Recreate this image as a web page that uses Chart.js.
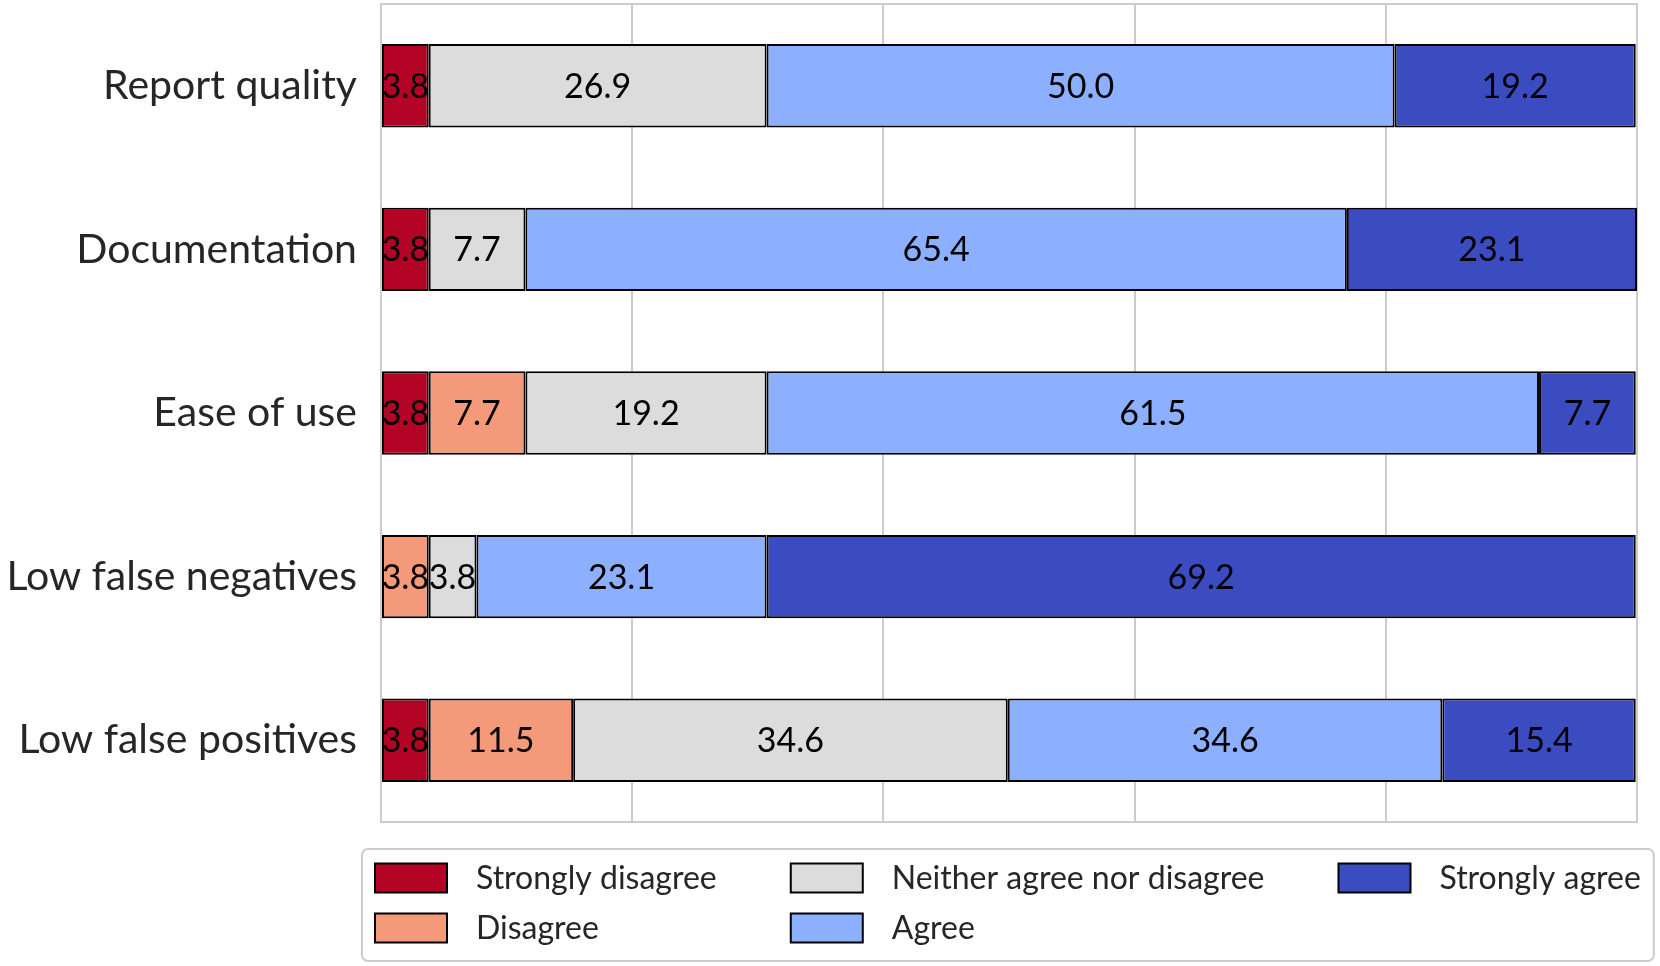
<!DOCTYPE html>
<html>
<head>
<meta charset="utf-8">
<title>Survey responses</title>
<script src="https://cdn.jsdelivr.net/npm/chart.js@4.4.1/dist/chart.umd.min.js"></script>
<style>
  html, body { margin: 0; padding: 0; background: #fff; }
  #wrap { width: 1660px; height: 966px; }
</style>
</head>
<body>
<div id="wrap"><canvas id="chart"></canvas></div>
<script>
// --- Data ---
const categories = ['Report quality', 'Documentation', 'Ease of use', 'Low false negatives', 'Low false positives'];
const responseLabels = ['Strongly disagree', 'Disagree', 'Neither agree nor disagree', 'Agree', 'Strongly agree'];
const responseColors = ['#b40426', '#f49a7b', '#dddcdc', '#8db0fe', '#3b4cc0'];

const stronglyDisagree = [3.8, 3.8, 3.8, 0, 3.8];
const disagree = [0, 0, 7.7, 3.8, 11.5];
const neither = [26.9, 7.7, 19.2, 3.8, 34.6];
const agree = [50.0, 65.4, 61.5, 23.1, 34.6];
const stronglyAgree = [19.2, 23.1, 7.7, 69.2, 15.4];

const seriesValues = [stronglyDisagree, disagree, neither, agree, stronglyAgree];
const xTicks = [0, 20, 40, 60, 80, 100];

const FONT = 'Lato';
const TEXT = '#262626';

// --- Plot frame (light grey box round the chart area) ---
const framePlugin = {
    id: 'frame',
    beforeDatasetsDraw(chart) {
        const { ctx, chartArea: a } = chart;
        ctx.save();
        ctx.strokeStyle = '#cccccc';
        ctx.lineWidth = 2;
        ctx.strokeRect(a.left, a.top, a.right - a.left, a.bottom - a.top);
        ctx.restore();
    }
};

// --- Value labels in the middle of each segment ---
const valueLabelPlugin = {
    id: 'valueLabels',
    afterDatasetsDraw(chart) {
        const { ctx } = chart;
        ctx.save();
        ctx.font = `34px ${FONT}`;
        ctx.fillStyle = '#000';
        ctx.textAlign = 'center';
        ctx.textBaseline = 'middle';
        chart.data.datasets.forEach((ds, i) => {
            chart.getDatasetMeta(i).data.forEach((bar, j) => {
                const v = ds.data[j];
                if (!v) return;
                const cx = (bar.x + bar.base) / 2;
                ctx.fillText(v.toFixed(1), cx, bar.y + 1);
            });
        });
        ctx.restore();
    }
};

// --- Legend below the chart, filled column by column ---
const columnLegendPlugin = {
    id: 'columnLegend',
    afterDraw(chart) {
        const { ctx, chartArea: a } = chart;
        const rows = 2;
        const swatchW = 72, swatchH = 29, textPad = 29, colGap = 74;
        const rowStep = 50;
        const boxLeft = a.left - 19, boxTop = a.bottom + 27;
        const items = chart.data.datasets.map(ds => ({ label: ds.label, color: ds.backgroundColor }));

        ctx.save();
        ctx.font = `32px ${FONT}`;
        const cols = Math.ceil(items.length / rows);
        const colX = [];
        let x = boxLeft + 13;
        for (let c = 0; c < cols; c++) {
            colX.push(x);
            let maxW = 0;
            for (let r = 0; r < rows; r++) {
                const it = items[c * rows + r];
                if (it) maxW = Math.max(maxW, ctx.measureText(it.label).width);
            }
            x += swatchW + textPad + maxW + colGap;
        }
        const boxRight = x - colGap + 13;
        const boxBottom = boxTop + 112;

        ctx.strokeStyle = '#cccccc';
        ctx.lineWidth = 2;
        ctx.fillStyle = '#fff';
        ctx.beginPath();
        ctx.roundRect(boxLeft, boxTop, boxRight - boxLeft, boxBottom - boxTop, 6);
        ctx.fill();
        ctx.stroke();

        ctx.textBaseline = 'middle';
        ctx.textAlign = 'left';
        items.forEach((it, k) => {
            const c = Math.floor(k / rows), r = k % rows;
            const cy = boxTop + 29 + r * rowStep;
            ctx.fillStyle = it.color;
            ctx.fillRect(colX[c], cy - swatchH / 2, swatchW, swatchH);
            ctx.strokeStyle = '#000';
            ctx.lineWidth = 2;
            ctx.strokeRect(colX[c], cy - swatchH / 2, swatchW, swatchH);
            ctx.fillStyle = TEXT;
            ctx.fillText(it.label, colX[c] + swatchW + textPad, cy + 1);
        });
        ctx.restore();
    }
};

const datasets = seriesValues.map((vals, i) => ({
    label: responseLabels[i],
    data: vals,
    backgroundColor: responseColors[i],
    borderColor: '#000',
    borderWidth: 2,
    borderSkipped: false,
    categoryPercentage: 1.0,
    barPercentage: 0.51
}));

const ctx = document.getElementById('chart').getContext('2d');
new Chart(ctx, {
    type: 'bar',
    data: { labels: categories, datasets },
    options: {
        indexAxis: 'y',
        responsive: true,
        maintainAspectRatio: false,
        animation: false,
        layout: { padding: { left: 0, top: 4, right: 23, bottom: 144 } },
        plugins: {
            legend: { display: false },
            tooltip: { enabled: false }
        },
        scales: {
            x: {
                stacked: true,
                min: 0,
                max: 100,
                afterBuildTicks: (scale) => { scale.ticks = xTicks.map(v => ({ value: v })); },
                afterFit: (scale) => {
                    scale.height = 0;
                    scale.paddingLeft = 0;
                    scale.paddingRight = 0;
                },
                ticks: { display: false },
                border: { display: false },
                grid: { color: '#cccccc', lineWidth: 2, drawTicks: false }
            },
            y: {
                stacked: true,
                afterFit: (scale) => {
                    scale.width = 381;
                    scale.paddingTop = 0;
                    scale.paddingBottom = 0;
                },
                border: { display: false },
                grid: { display: false, drawTicks: false },
                ticks: {
                    color: TEXT,
                    padding: 24,
                    font: { family: FONT, size: 41 }
                }
            }
        }
    },
    plugins: [framePlugin, valueLabelPlugin, columnLegendPlugin]
});
</script>
</body>
</html>
